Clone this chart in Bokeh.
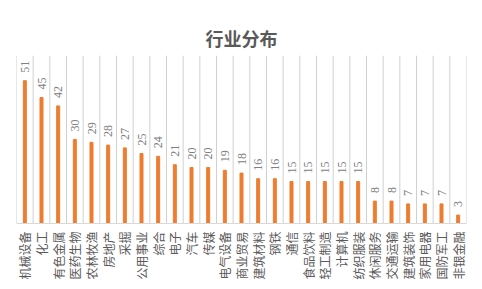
import math
from bokeh.plotting import figure
from bokeh.models import ColumnDataSource, FixedTicker, Range1d, Span
from bokeh.core.properties import value
from bokeh.embed import file_html
from bokeh.resources import INLINE

categories = ["机械设备", "化工", "有色金属", "医药生物", "农林牧渔", "房地产", "采掘",
              "公用事业", "综合", "电子", "汽车", "传媒", "电气设备", "商业贸易",
              "建筑材料", "钢铁", "通信", "食品饮料", "轻工制造", "计算机", "纺织服装",
              "休闲服务", "交通运输", "建筑装饰", "家用电器", "国防军工", "非银金融"]
counts = [51, 45, 42, 30, 29, 28, 27, 25, 24, 21, 20, 20, 19, 18,
          16, 16, 15, 15, 15, 15, 15, 8, 8, 7, 7, 7, 3]
title_text = "行业分布"
y_max = 60

n = len(categories)
idx = list(range(n))
src = ColumnDataSource(dict(x=idx, top=counts, label=[str(v) for v in counts]))
bounds = [i - 0.5 for i in range(n + 1)]

p = figure(width=482, height=289, output_backend="svg", toolbar_location=None,
           x_range=Range1d(-0.5, n - 0.5), y_range=Range1d(0, y_max),
           min_border_left=16, min_border_right=16, min_border_top=55, min_border_bottom=66)

p.title.text = title_text
p.title.align = "center"
p.title.text_font = "Noto Sans CJK SC"
p.title.text_font_size = "18px"
p.title.text_font_style = "bold"
p.title.text_color = "#595959"

for b in bounds:
    p.add_layout(Span(location=b, dimension="height", line_color="#d0d0d0",
                      line_width=1, level="underlay"))

p.vbar(x="x", top="top", width=0.18, color="#ED7D31", source=src)
p.text(x="x", y="top", text="label", source=src, angle=math.pi / 2,
       text_align="left", text_baseline="middle", y_offset=-8,
       text_font=value("Liberation Serif"), text_font_size="12px", text_color="#808080")

p.yaxis.visible = False
p.ygrid.visible = False
p.xgrid.visible = False
p.xaxis.ticker = FixedTicker(ticks=idx)
p.xaxis.major_label_overrides = {i: c for i, c in enumerate(categories)}
p.xaxis.major_label_orientation = math.pi / 2
p.xaxis.major_label_text_font = "Noto Sans CJK SC"
p.xaxis.major_label_text_font_size = "12px"
p.xaxis.major_label_text_color = "#595959"
p.xaxis.major_tick_line_color = None
p.xaxis.minor_tick_line_color = None
p.xaxis.major_tick_out = 0
p.xaxis.major_tick_in = 0
p.xaxis.major_label_standoff = 8
p.xaxis.axis_line_color = "#d9d9d9"
p.outline_line_color = None

open("out.html", "w").write(file_html(p, INLINE))
